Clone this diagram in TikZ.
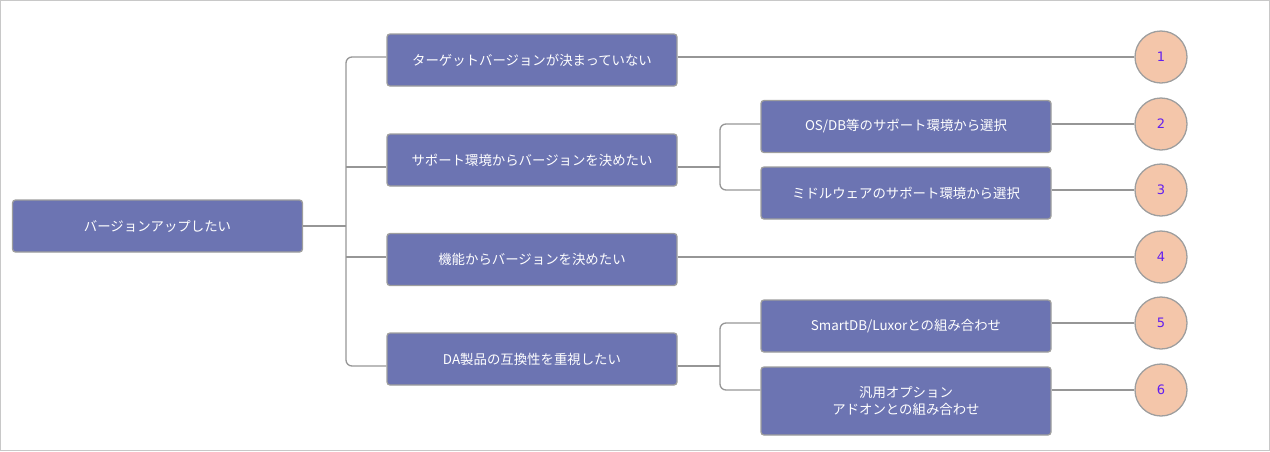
\documentclass[tikz,border=0pt]{standalone}
\usepackage{fontspec}
\setmainfont{Noto Sans CJK JP}
\newfontfamily\numfont{DejaVu Sans}
\usetikzlibrary{positioning}
\definecolor{boxblue}{RGB}{108,116,178}
\definecolor{edgegray}{RGB}{158,158,158}
\definecolor{linegray}{RGB}{150,150,150}
\definecolor{circpeach}{RGB}{244,198,170}
\definecolor{numviolet}{RGB}{98,30,240}
\definecolor{framegray}{RGB}{200,200,200}
\tikzset{
  itembox/.style={fill=boxblue,draw=edgegray,line width=1.3pt,rounded corners=3pt,
    text=white,font=\fontsize{13.4}{17}\selectfont,align=center,
    minimum width=290pt,minimum height=52pt,inner sep=0pt},
  numcirc/.style={circle,fill=circpeach,draw=edgegray,line width=1.3pt,
    minimum size=52pt,inner sep=0pt,text=numviolet,font=\numfont\fontsize{13}{15}\selectfont},
  link/.style={draw=linegray,line width=1.3pt}
}

\begin{document}
\begin{tikzpicture}[x=1pt,y=-1pt]
        \useasboundingbox (0,0) rectangle (1270,451);
        \draw[framegray,line width=1pt] (0.5,0.5) rectangle (1269.5,450.5);

        % boxes
        \node[itembox] (root) at (157.5,226) {バージョンアップしたい};
        \node[itembox] (t1) at (532,60) {ターゲットバージョンが決まっていない};
        \node[itembox] (t2) at (532,160) {サポート環境からバージョンを決めたい};
        \node[itembox] (t3) at (532,259.5) {機能からバージョンを決めたい};
        \node[itembox] (t4) at (532,359) {DA製品の互換性を重視したい};
        \node[itembox] (s1) at (906,126.5) {OS/DB等のサポート環境から選択};
        \node[itembox] (s2) at (906,193) {ミドルウェアのサポート環境から選択};
        \node[itembox] (s3) at (906,326) {SmartDB/Luxorとの組み合わせ};
        \node[itembox,minimum height=68pt] (s4) at (906,401)
          {汎用オプション\\アドオンとの組み合わせ};

        % numbers
        \foreach \n/\y in {1/57,2/124,3/190,4/257,5/323,6/390}
          \node[numcirc] (c\n) at (1161,\y) {\n};

        \coordinate (trunk) at (346,226);
        \coordinate (fork1) at (720,167);
        \coordinate (fork2) at (720,366);

        % connectors
        \draw[link] (root) -- (trunk);
        \draw[link,rounded corners=6pt] (t1.west |- c1) -| (trunk) |- (t4.west |- fork2);
        \draw[link] (t2.west |- fork1) -- (trunk |- fork1);
        \draw[link] (t3.west |- c4) -- (trunk |- c4);
        \draw[link] (t2.east |- fork1) -- (fork1);
        \draw[link] (t4.east |- fork2) -- (fork2);
        \draw[link,rounded corners=6pt] (s1.west |- c2) -| (fork1) |- (s2.west |- c3);
        \draw[link,rounded corners=6pt] (s3.west |- c5) -| (fork2) |- (s4.west |- c6);
        \draw[link] (t1.east |- c1) -- (c1);
        \draw[link] (s1.east |- c2) -- (c2);
        \draw[link] (s2.east |- c3) -- (c3);
        \draw[link] (t3.east |- c4) -- (c4);
        \draw[link] (s3.east |- c5) -- (c5);
        \draw[link] (s4.east |- c6) -- (c6);
      \end{tikzpicture}
\end{document}
